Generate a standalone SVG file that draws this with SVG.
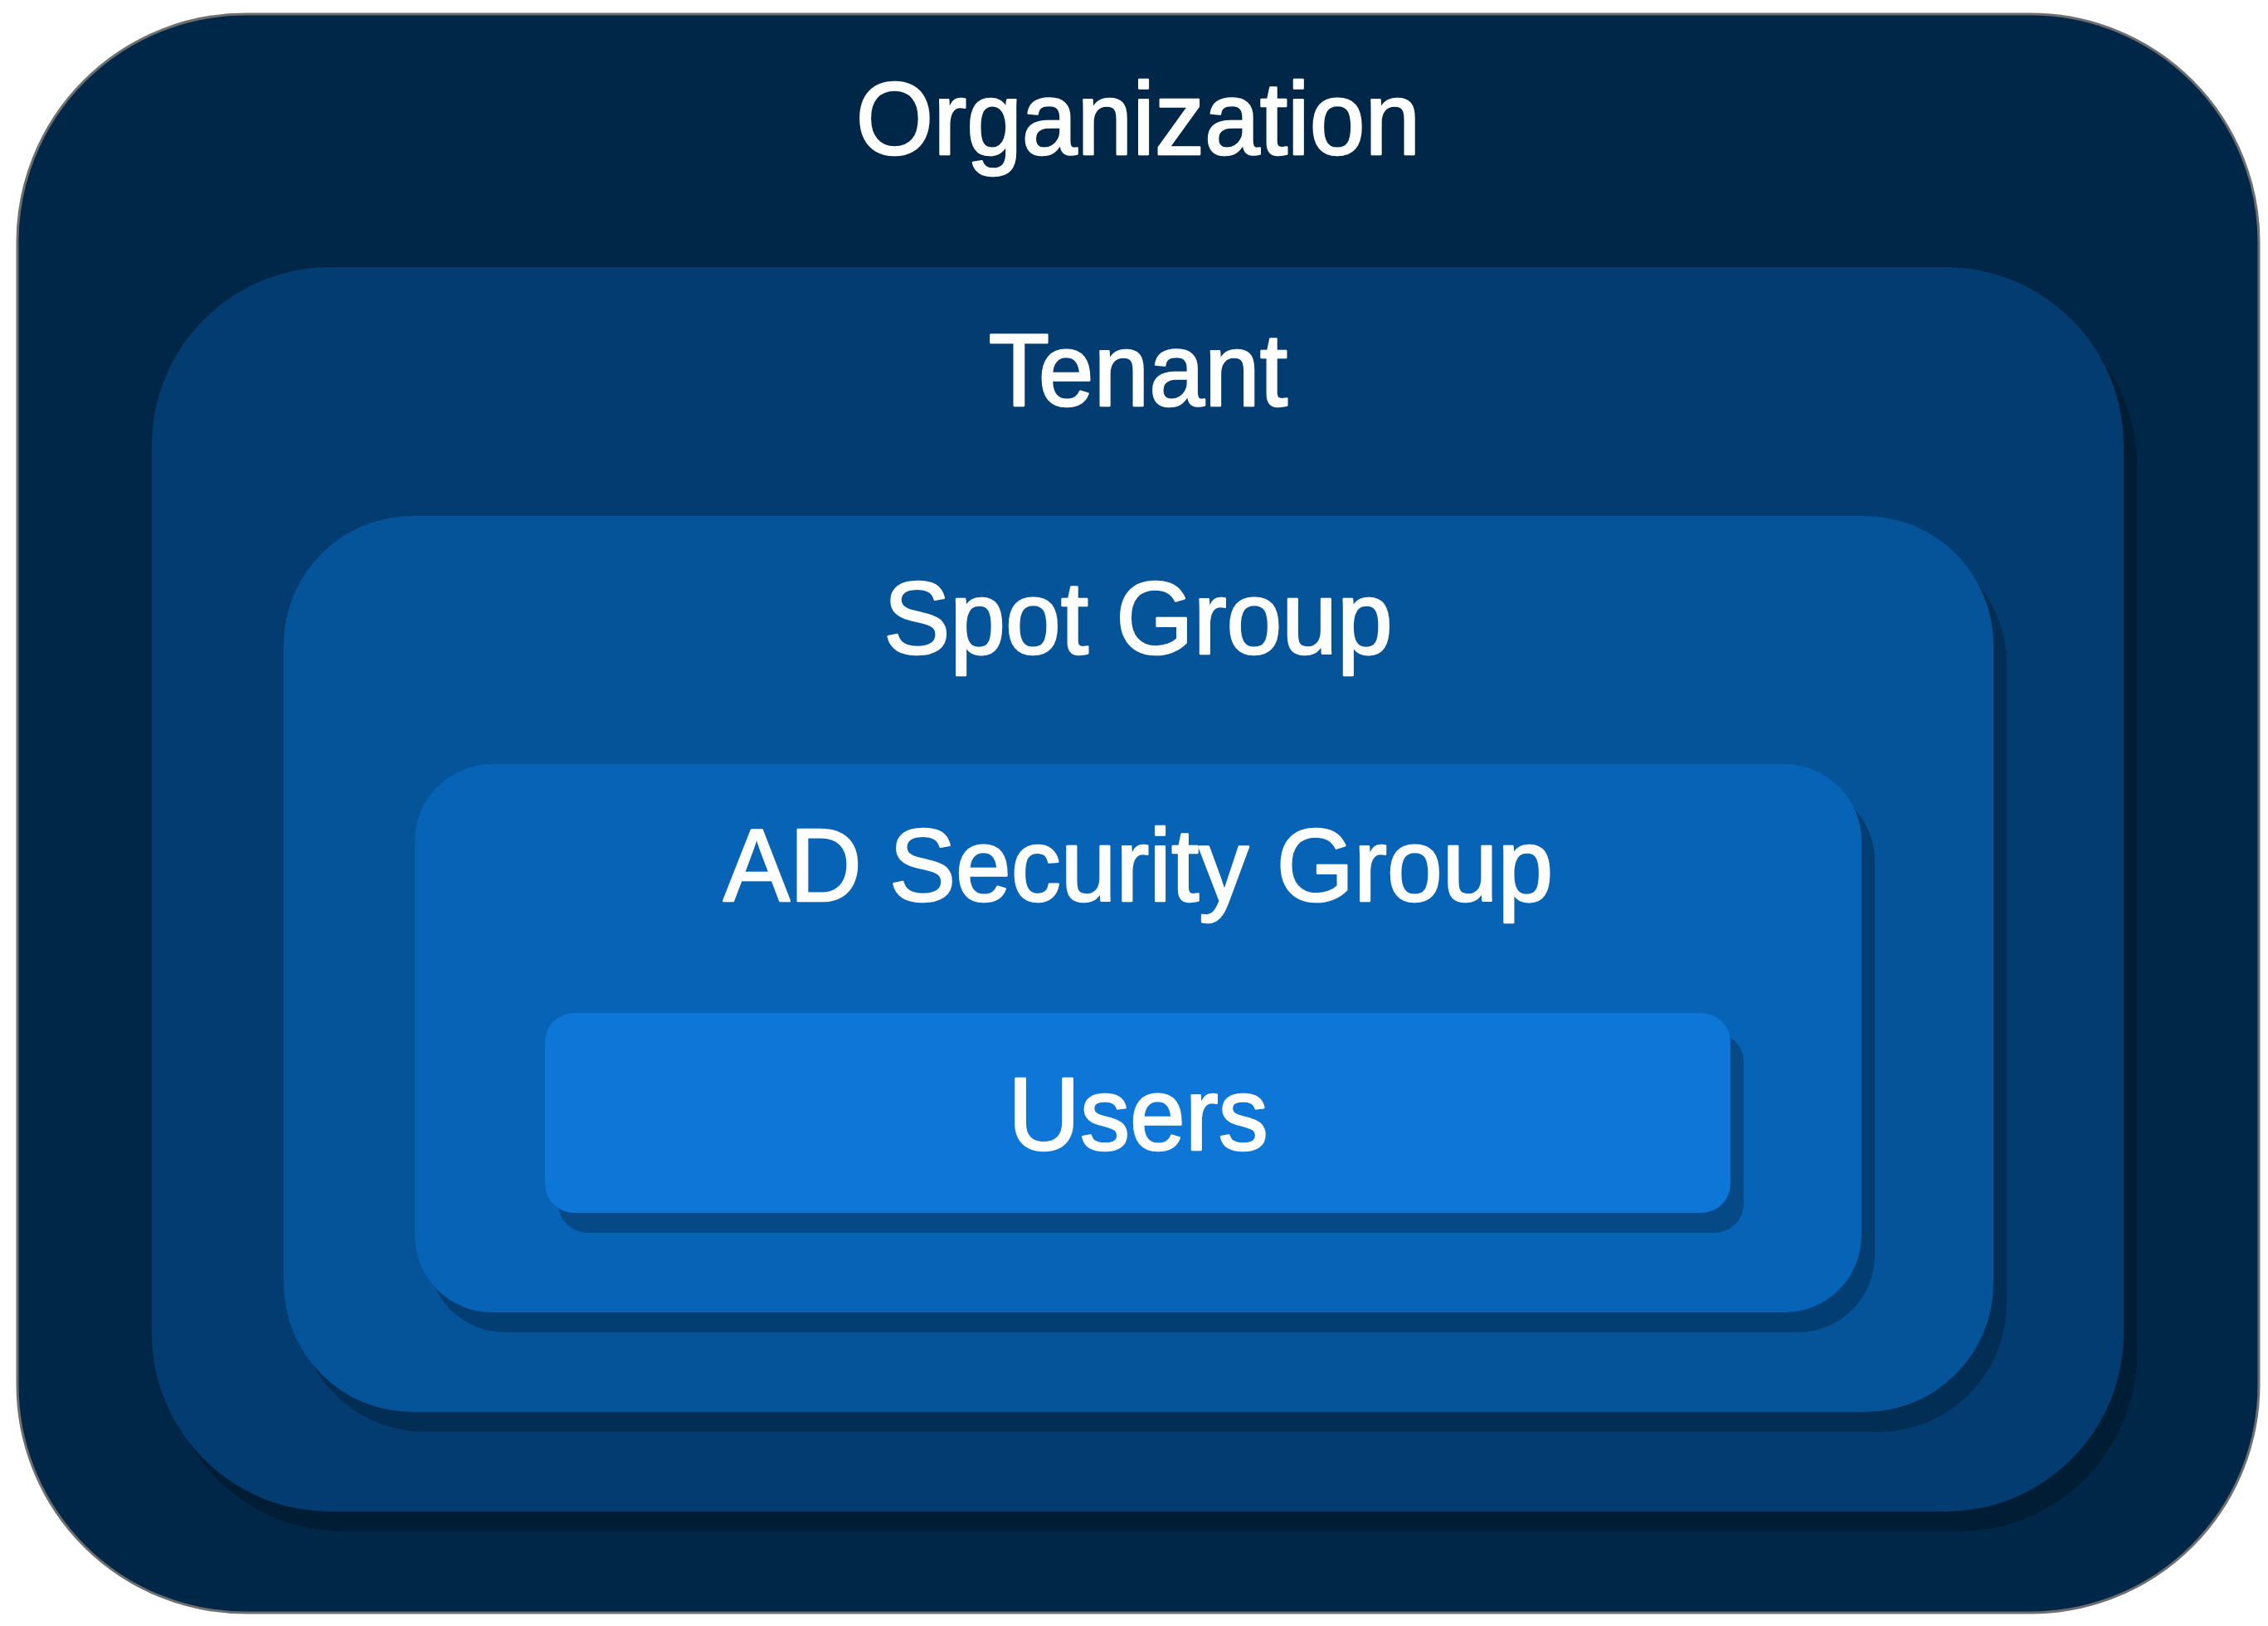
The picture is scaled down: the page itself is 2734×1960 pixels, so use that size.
<svg xmlns="http://www.w3.org/2000/svg" width="2734" height="1960" viewBox="0 0 2734 1960">
<style>
.lbl{font-family:"Liberation Sans",Arial,Helvetica,sans-serif;font-size:120px;fill:#ffffff;stroke:#ffffff;stroke-width:2.5;stroke-linejoin:round;text-anchor:middle}
.sh{fill:#000000;fill-opacity:0.25}
</style>
<rect width="2734" height="1960" fill="#ffffff"/>
<g id="organization">
<rect x="21" y="17" width="2702" height="1927" rx="275" ry="275" fill="#012748" stroke="#6e6e6e" stroke-width="3"/>
<text class="lbl" transform="translate(1372,186) scale(1,1.04)">Organization</text>
</g>
<g id="tenant">
<rect class="sh" x="199" y="346" width="2377" height="1500" rx="215" ry="215"/>
<rect x="183" y="322" width="2377" height="1500" rx="215" ry="215" fill="#033C70"/>
<text class="lbl" transform="translate(1372,489) scale(1,1.04)">Tenant</text>
</g>
<g id="spot-group">
<rect class="sh" x="358" y="646" width="2061" height="1080" rx="155" ry="155"/>
<rect x="342" y="622" width="2061" height="1080" rx="155" ry="155" fill="#055398"/>
<text class="lbl" transform="translate(1372,788) scale(1,1.04)">Spot Group</text>
</g>
<g id="ad-security-group">
<rect class="sh" x="516" y="945" width="1744" height="661" rx="93" ry="93"/>
<rect x="500" y="921" width="1744" height="661" rx="93" ry="93" fill="#0763B5"/>
<text class="lbl" transform="translate(1372,1086) scale(1,1.04)">AD Security Group</text>
</g>
<g id="users">
<rect class="sh" x="673" y="1245" width="1429" height="241" rx="35" ry="35"/>
<rect x="657" y="1221" width="1429" height="241" rx="35" ry="35" fill="#0D76D7"/>
<text class="lbl" transform="translate(1372,1386) scale(1,1.04)">Users</text>
</g>
<g id="connectors"/>
</svg>
